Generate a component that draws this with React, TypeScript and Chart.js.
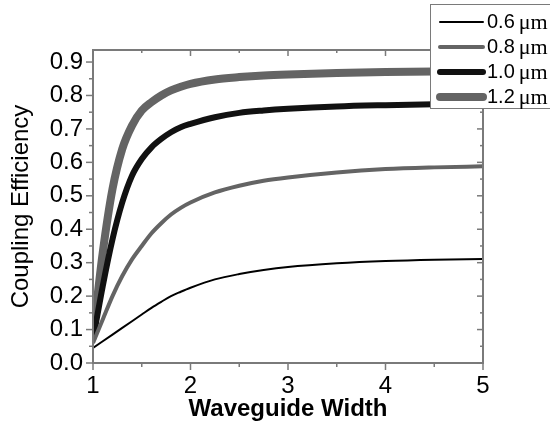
import React, { useEffect, useRef } from "react";
import { Chart, registerables } from "chart.js";

Chart.register(...registerables);

const WIDTHS = [1.0, 1.1, 1.2, 1.3, 1.4, 1.5, 1.6, 1.7, 1.8, 1.9, 2.0, 2.25, 2.5, 2.75, 3.0, 3.5, 4.0, 4.5, 5.0];
const EFF_06 = [0.045, 0.065, 0.085, 0.105, 0.125, 0.145, 0.165, 0.183, 0.2, 0.213, 0.225, 0.25, 0.266, 0.278, 0.287, 0.298, 0.305, 0.309, 0.311];
const EFF_08 = [0.06, 0.13, 0.2, 0.26, 0.31, 0.35, 0.388, 0.418, 0.444, 0.464, 0.48, 0.51, 0.53, 0.545, 0.555, 0.57, 0.58, 0.585, 0.588];
const EFF_10 = [0.07, 0.23, 0.37, 0.48, 0.56, 0.61, 0.645, 0.67, 0.69, 0.705, 0.715, 0.735, 0.748, 0.755, 0.76, 0.767, 0.771, 0.774, 0.776];
const EFF_12 = [0.08, 0.33, 0.52, 0.64, 0.71, 0.755, 0.78, 0.8, 0.815, 0.826, 0.835, 0.848, 0.855, 0.86, 0.863, 0.867, 0.87, 0.872, 0.873];
const SERIES_LABELS = ["0.6", "0.8", "1.0", "1.2"];
const UNIT = "\u03bcm";
const Y_TICKS = [0, 0.1, 0.2, 0.3, 0.4, 0.5, 0.6, 0.7, 0.8, 0.9];
const Y_MINOR = [0.05, 0.15, 0.25, 0.35, 0.45, 0.55, 0.65, 0.75, 0.85];
const X_TICKS = [1, 2, 3, 4, 5];
const X_MINOR = [1.5, 2.5, 3.5, 4.5];

const FONT = "'Liberation Sans', Arial, sans-serif";
const GRAY = "#646464";
const AXIS = "#7a7a7a";

const frameAndLegend = {
  id: "frameAndLegend",
  afterDatasetsDraw(chart: any) {
    const ctx = chart.ctx;
    const { left, right, top, bottom } = chart.chartArea;
    const xs = chart.scales.x;
    const ys = chart.scales.y;
    ctx.save();
    ctx.strokeStyle = AXIS;
    ctx.lineWidth = 2;
    ctx.strokeRect(left, top, right - left, bottom - top);
    ctx.lineWidth = 1.5;
    const tick = (x1: number, y1: number, x2: number, y2: number) => {
      ctx.beginPath();
      ctx.moveTo(x1, y1);
      ctx.lineTo(x2, y2);
      ctx.stroke();
    };
    Y_TICKS.forEach((v) => {
      const y = ys.getPixelForValue(v);
      tick(left - 7, y, left, y);
      tick(right, y, right - 6, y);
    });
    Y_MINOR.forEach((v) => {
      const y = ys.getPixelForValue(v);
      tick(left - 4, y, left, y);
      tick(right, y, right - 3, y);
    });
    X_TICKS.forEach((v) => {
      const x = xs.getPixelForValue(v);
      tick(x, bottom, x, bottom + 7);
      tick(x, top, x, top + 6);
    });
    X_MINOR.forEach((v) => {
      const x = xs.getPixelForValue(v);
      tick(x, bottom, x, bottom + 4);
      tick(x, top, x, top + 3);
    });

    // legend
    const bx = 430, by = 4, bw = 130, bh = 104;
    ctx.fillStyle = "#fff";
    ctx.fillRect(bx, by, bw, bh);
    ctx.strokeStyle = AXIS;
    ctx.lineWidth = 1;
    ctx.strokeRect(bx + 0.5, by + 0.5, bw, bh);
    chart.data.datasets.forEach((ds: any, i: number) => {
      const y = 22 + i * 25;
      ctx.strokeStyle = ds.borderColor;
      ctx.lineWidth = ds.borderWidth;
      ctx.lineCap = "round";
      ctx.beginPath();
      ctx.moveTo(440, y);
      ctx.lineTo(483, y);
      ctx.stroke();
      ctx.fillStyle = "#000";
      ctx.textBaseline = "middle";
      ctx.textAlign = "left";
      ctx.font = `20px ${FONT}`;
      const t = SERIES_LABELS[i];
      ctx.fillText(t, 487, y);
      const w = ctx.measureText(t).width;
      ctx.font = `22px 'Liberation Serif', 'Times New Roman', serif`;
      ctx.fillText(UNIT, 487 + w + 4, y + 1);
    });
    ctx.restore();
  },
};

export default function App() {
  const ref = useRef<HTMLCanvasElement>(null);
  useEffect(() => {
    if (!ref.current) return;
    const mk = (vals: number[]) => WIDTHS.map((x, i) => ({ x, y: vals[i] }));
    const chart = new Chart(ref.current, {
      type: "line",
      data: {
        datasets: [
          { label: SERIES_LABELS[0], data: mk(EFF_06), borderColor: "#000", borderWidth: 2 },
          { label: SERIES_LABELS[1], data: mk(EFF_08), borderColor: GRAY, borderWidth: 4 },
          { label: SERIES_LABELS[2], data: mk(EFF_10), borderColor: "#111", borderWidth: 6 },
          { label: SERIES_LABELS[3], data: mk(EFF_12), borderColor: GRAY, borderWidth: 8 },
        ].map((d) => ({ ...d, pointRadius: 0, fill: false, cubicInterpolationMode: "monotone" as const })),
      },
      options: {
        animation: false,
        responsive: false,
        events: [],
        layout: { padding: { left: 0, top: 50, right: 67, bottom: 3 } },
        plugins: { legend: { display: false }, tooltip: { enabled: false } },
        scales: {
          x: {
            type: "linear",
            min: 1,
            max: 5,
            afterFit: (s: any) => { s.height = 61; },
            afterBuildTicks: (s: any) => { s.ticks = X_TICKS.map((value) => ({ value })); },
            grid: { display: false, drawTicks: false },
            border: { display: false },
            ticks: { padding: 9, color: "#000", font: { family: FONT, size: 24 }, callback: (v: any) => String(v) },
            title: { display: true, text: "Waveguide Width", color: "#000", font: { family: FONT, size: 24, weight: "bold" }, padding: { top: 0, bottom: 0 } },
          },
          y: {
            type: "linear",
            min: 0,
            max: 0.936,
            afterFit: (s: any) => { s.width = 93; },
            afterBuildTicks: (s: any) => { s.ticks = Y_TICKS.map((value) => ({ value })); },
            grid: { display: false, drawTicks: false },
            border: { display: false },
            ticks: { padding: 10, color: "#000", font: { family: FONT, size: 24 }, callback: (v: any) => Number(v).toFixed(1) },
            title: { display: true, text: "Coupling Efficiency", color: "#000", font: { family: FONT, size: 24 }, padding: { top: 7, bottom: 0 } },
          },
        },
      },
      plugins: [frameAndLegend],
    });
    return () => chart.destroy();
  }, []);
  return (
    <div style={{ position: "fixed", left: 0, top: 0, width: 550, height: 427, background: "#fff" }}>
      <canvas ref={ref} width={550} height={427} style={{ display: "block" }} />
    </div>
  );
}
